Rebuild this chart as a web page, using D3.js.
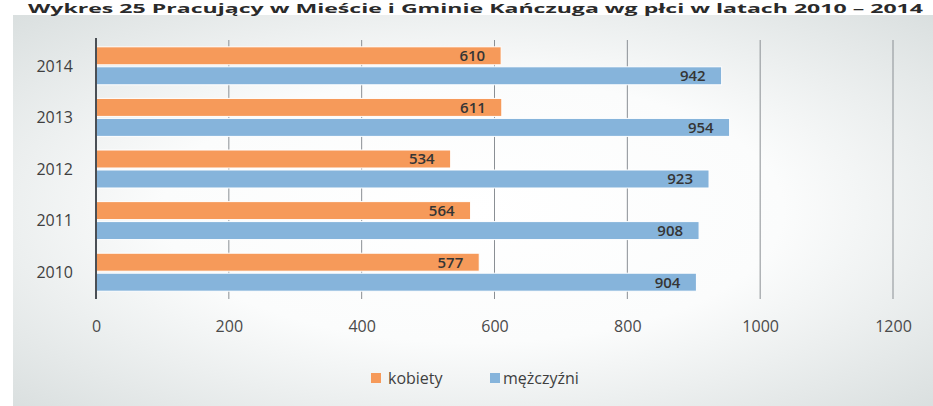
<!DOCTYPE html>
<html><head><meta charset="utf-8">
<script src="https://cdn.jsdelivr.net/npm/d3@7/dist/d3.min.js"></script>
<style>body{margin:0;background:#fff;}svg{display:block;}</style>
</head><body>
<svg id="c" width="933" height="406"></svg>
<script>
const title = "Wykres 25 Pracujący w Mieście i Gminie Kańczuga wg płci w latach 2010 – 2014";
const years = ["2014","2013","2012","2011","2010"];
const kobiety = [610, 611, 534, 564, 577];
const mezczyzni = [942, 954, 923, 908, 904];
const seriesNames = ["kobiety","mężczyźni"];
const seriesColors = ["#f69a5a","#86b4db"];
const xTicks = [0,200,400,600,800,1000,1200];

const svg = d3.select("#c");
const defs = svg.append("defs");
const rg = defs.append("radialGradient").attr("id","bg").attr("cx","50%").attr("cy","50%").attr("r","75%");
rg.append("stop").attr("offset","0%").attr("stop-color","#ffffff");
rg.append("stop").attr("offset","45%").attr("stop-color","#fbfcfc");
rg.append("stop").attr("offset","100%").attr("stop-color","#d6dcdc");
svg.append("rect").attr("x",13).attr("y",15).attr("width",920).attr("height",391).attr("fill","url(#bg)");

svg.append("text").attr("x",28).attr("y",13).attr("font-family","Open Sans, sans-serif")
  .attr("font-weight","bold").attr("font-size",12).attr("fill","#2a2a2a")
  .attr("textLength",895).attr("lengthAdjust","spacingAndGlyphs").text(title);

const x = d3.scaleLinear().domain([0,1200]).range([96,893]);
const y = d3.scaleBand().domain(years).range([40,298]).paddingInner(0.264).paddingOuter(0.132);
const ys = d3.scaleBand().domain([0,1]).range([0,y.bandwidth()]).paddingInner(0.1);

// gridlines
svg.append("g").selectAll("line").data(xTicks.slice(1)).join("line")
  .attr("x1",d=>x(d)).attr("x2",d=>x(d)).attr("y1",40).attr("y2",299)
  .attr("stroke","#8a8f94").attr("stroke-width",1);

const data = years.map((yr,i)=>({yr, vals:[kobiety[i], mezczyzni[i]]}));
const g = svg.append("g");
data.forEach(d=>{
  d.vals.forEach((v,s)=>{
    const yy = y(d.yr)+ys(s);
    g.append("rect").attr("x",x(0)).attr("y",yy).attr("width",x(v)-x(0)).attr("height",ys.bandwidth())
      .attr("fill",seriesColors[s]).attr("stroke","#fff").attr("stroke-width",1);
    g.append("text").attr("x",x(v)-16).attr("y",yy+ys.bandwidth()/2).attr("dy","0.36em")
      .attr("text-anchor","end").attr("font-family","Open Sans, sans-serif").attr("font-size",15)
      .attr("font-weight","600").attr("fill","#353535").text(v);
  });
});

// axis line
svg.append("line").attr("x1",x(0)).attr("x2",x(0)).attr("y1",38).attr("y2",299)
  .attr("stroke","#4a4f55").attr("stroke-width",2);

// y labels
svg.append("g").selectAll("text").data(years).join("text")
  .attr("x",73).attr("y",d=>y(d)+y.bandwidth()/2).attr("dy","0.36em").attr("text-anchor","end")
  .attr("font-family","Open Sans, sans-serif").attr("font-size",16).attr("fill","#3f3f3f").text(d=>d);

// x labels
const xa = d3.axisBottom(x).tickValues(xTicks).tickFormat(d3.format("d")).tickSize(0).tickPadding(0);
const xg = svg.append("g").attr("transform","translate(0,321)").call(xa);
xg.select(".domain").remove();
xg.selectAll("text").attr("font-family","Open Sans, sans-serif").attr("font-size",16).attr("fill","#4a4a4a");

// legend
const leg = [{x:371,tx:388},{x:490,tx:503}];
seriesNames.forEach((n,i)=>{
  svg.append("rect").attr("x",leg[i].x).attr("y",373).attr("width",10).attr("height",10).attr("fill",seriesColors[i]);
  svg.append("text").attr("x",leg[i].tx).attr("y",384).attr("font-family","Open Sans, sans-serif")
    .attr("font-size",16).attr("fill","#3f3f3f").text(n);
});
</script>
</body></html>
